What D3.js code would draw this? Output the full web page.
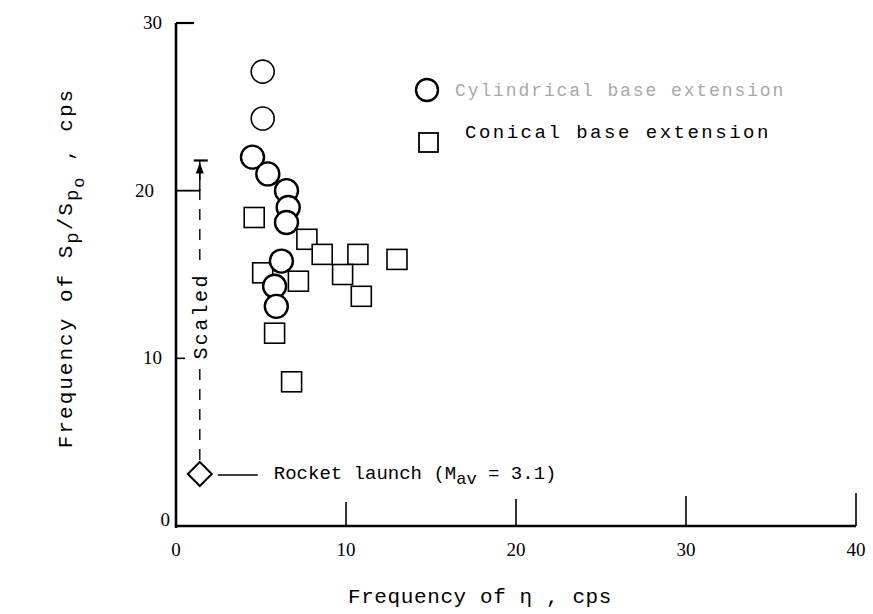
<!DOCTYPE html>
<html>
<head>
<meta charset="utf-8">
<script src="https://cdn.jsdelivr.net/npm/d3@7"></script>
<style>
  body { margin: 0; background: #fff; }
  svg { display: block; }
</style>
</head>
<body>
<svg id="chart"></svg>
<script>
// data
const xTicks = [0, 10, 20, 30, 40];
const yTicks = [0, 10, 20, 30];

const cylindrical = [
  [5.1, 27.1], [5.1, 24.3], [4.5, 22.0], [5.4, 21.0], [6.5, 20.0],
  [6.6, 19.0], [6.5, 18.1], [6.2, 15.8], [5.8, 14.3], [5.9, 13.1]
];
const conical = [
  [4.6, 18.4], [7.7, 17.1], [8.6, 16.2], [10.7, 16.2], [13.0, 15.9],
  [9.8, 15.0], [10.9, 13.7], [7.2, 14.6], [5.1, 15.1], [5.8, 11.5], [6.8, 8.6]
];
const rocket = [1.4, 3.1];
const scaledTop = 21.8;
const scaledBase = 20;

const width = 873, height = 614;
const serif = "'Liberation Serif', 'DejaVu Serif', serif";
const mono = "'Liberation Mono', 'DejaVu Sans Mono', monospace";

const svg = d3.select('#chart').attr('width', width).attr('height', height);

const x = d3.scaleLinear().domain([0, 40]).range([176, 856]);
const y = d3.scaleLinear().domain([0, 30]).range([526, 23]);

// axes
svg.append('line')
  .attr('x1', x(0)).attr('x2', x(0)).attr('y1', y(30)).attr('y2', y(0) + 2)
  .attr('stroke', '#000').attr('stroke-width', 2.6);
svg.append('line')
  .attr('x1', x(0) - 1).attr('x2', x(40)).attr('y1', y(0)).attr('y2', y(0))
  .attr('stroke', '#000').attr('stroke-width', 2.4);

// inward ticks on x
svg.selectAll('.xtick')
  .data(xTicks.slice(1))
  .join('line')
  .attr('x1', d => x(d)).attr('x2', d => x(d))
  .attr('y1', y(0)).attr('y2', (d, i) => y(0) - 24 - i * 3)
  .attr('stroke', '#000').attr('stroke-width', 1.6);

svg.selectAll('.xlab')
  .data(xTicks)
  .join('text')
  .attr('x', d => x(d)).attr('y', y(0) + 30)
  .attr('text-anchor', 'middle')
  .style('font-family', serif).style('font-size', '19px')
  .text(d => d);

// y ticks: top cap, 10 short
svg.append('line')
  .attr('x1', x(0)).attr('x2', x(0) + 18).attr('y1', y(30)).attr('y2', y(30))
  .attr('stroke', '#000').attr('stroke-width', 2.2);
svg.append('line')
  .attr('x1', x(0)).attr('x2', x(0) + 9).attr('y1', y(10)).attr('y2', y(10))
  .attr('stroke', '#000').attr('stroke-width', 1.6);

svg.selectAll('.ylab')
  .data(yTicks)
  .join('text')
  .attr('x', d => d === 0 ? x(0) - 6 : (d === 20 ? x(0) - 22 : x(0) - 14))
  .attr('y', d => y(d) + (d === 0 ? 0 : 6))
  .attr('text-anchor', 'end')
  .style('font-family', serif).style('font-size', '19px')
  .text(d => d);

// "Scaled" annotation
const ax = x(rocket[0]);
svg.append('line')
  .attr('x1', ax).attr('x2', ax).attr('y1', y(rocket[1]) - 14).attr('y2', y(scaledTop) + 4)
  .attr('stroke', '#000').attr('stroke-width', 1.4)
  .attr('stroke-dasharray', '11,9');
svg.append('line')
  .attr('x1', x(0)).attr('x2', ax).attr('y1', y(scaledBase)).attr('y2', y(scaledBase))
  .attr('stroke', '#000').attr('stroke-width', 1.8);
svg.append('line')
  .attr('x1', ax - 6).attr('x2', ax + 8).attr('y1', y(scaledTop)).attr('y2', y(scaledTop))
  .attr('stroke', '#000').attr('stroke-width', 2.2);
svg.append('line')
  .attr('x1', ax).attr('x2', ax).attr('y1', y(scaledTop)).attr('y2', y(scaledBase))
  .attr('stroke', '#000').attr('stroke-width', 1.4);
svg.append('path')
  .attr('d', `M${ax},${y(scaledTop) + 2} L${ax - 4},${y(scaledTop) + 13} L${ax + 4},${y(scaledTop) + 13} Z`)
  .attr('fill', '#000');
svg.append('rect')
  .attr('x', ax - 10).attr('y', y(15.6)).attr('width', 20).attr('height', y(9.8) - y(15.6))
  .attr('fill', '#fff');
svg.append('text')
  .attr('transform', `translate(${ax + 7},${y(12.5)}) rotate(-90)`)
  .attr('text-anchor', 'middle')
  .style('font-family', mono).style('font-size', '20px')
  .style('letter-spacing', '2.4px')
  .text('Scaled');

// conical squares
const sq = 20;
svg.selectAll('.sq')
  .data(conical)
  .join('rect')
  .attr('x', d => x(d[0]) - sq / 2).attr('y', d => y(d[1]) - sq / 2)
  .attr('width', sq).attr('height', sq)
  .attr('fill', '#fff').attr('stroke', '#000').attr('stroke-width', 1.6);

// cylindrical circles
svg.selectAll('.ci')
  .data(cylindrical)
  .join('circle')
  .attr('cx', d => x(d[0])).attr('cy', d => y(d[1])).attr('r', 11.5)
  .attr('fill', '#fff').attr('stroke', '#000')
  .attr('stroke-width', (d, i) => i < 2 ? 1.6 : 2.4);

// rocket launch diamond
const rd = 12;
svg.append('path')
  .attr('d', `M${ax},${y(rocket[1]) - rd} L${ax + rd},${y(rocket[1])} L${ax},${y(rocket[1]) + rd} L${ax - rd},${y(rocket[1])} Z`)
  .attr('fill', '#fff').attr('stroke', '#000').attr('stroke-width', 2);
svg.append('line')
  .attr('x1', ax + 18).attr('x2', ax + 58).attr('y1', y(rocket[1]) + 1).attr('y2', y(rocket[1]) + 1)
  .attr('stroke', '#000').attr('stroke-width', 1.6);
const rt = svg.append('text')
  .attr('x', ax + 74).attr('y', y(rocket[1]) + 5)
  .style('font-family', mono).style('font-size', '19px');
rt.append('tspan').text('Rocket launch (M');
rt.append('tspan').attr('dy', 5).style('font-size', '17px').text('av');
rt.append('tspan').attr('dy', -5).text('  = 3.1)');

// legend
svg.append('circle').attr('cx', 427).attr('cy', 90).attr('r', 11)
  .attr('fill', '#fff').attr('stroke', '#000').attr('stroke-width', 2.4);
svg.append('text').attr('x', 455).attr('y', 96)
  .style('font-family', mono).style('font-size', '18px').style('fill', '#a8a8a8')
  .style('letter-spacing', '1.9px')
  .text('Cylindrical base extension');
svg.append('rect').attr('x', 419).attr('y', 133).attr('width', 19).attr('height', 19)
  .attr('fill', '#fff').attr('stroke', '#000').attr('stroke-width', 1.8);
svg.append('text').attr('x', 465).attr('y', 138)
  .style('font-family', mono).style('font-size', '19px')
  .style('letter-spacing', '2.5px')
  .text('Conical base extension');

// axis titles
svg.append('text')
  .attr('x', 480).attr('y', 603)
  .attr('text-anchor', 'middle')
  .style('font-family', mono).style('font-size', '21px')
  .style('letter-spacing', '0.6px')
  .text('Frequency of \u03b7 , cps');

const yt = svg.append('text')
  .attr('transform', 'translate(72,268) rotate(-90)')
  .attr('text-anchor', 'middle')
  .style('font-family', mono).style('font-size', '21px')
  .style('letter-spacing', '2px');
yt.append('tspan').text('Frequency of S');
yt.append('tspan').attr('dy', 6).style('font-size', '19px').text('p');
yt.append('tspan').attr('dy', -6).text('/S');
yt.append('tspan').attr('dy', 6).style('font-size', '19px').text('p');
yt.append('tspan').attr('dy', 6).style('font-size', '17px').text('o');
yt.append('tspan').attr('dy', -12).text(' ,  cps');
</script>
</body>
</html>
